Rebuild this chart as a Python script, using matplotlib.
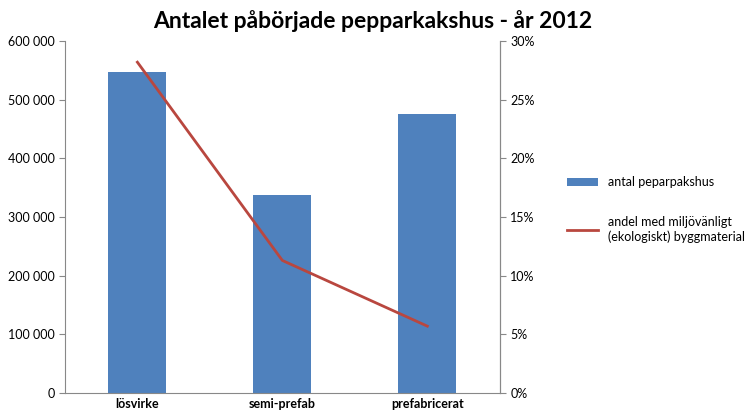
import matplotlib
matplotlib.use('Agg')
import matplotlib.pyplot as plt
from matplotlib.ticker import FuncFormatter, PercentFormatter

plt.rcParams['font.family'] = 'Lato'

categories = ['lösvirke', 'semi-prefab', 'prefabricerat']
antal = [547000, 338000, 475000]
andel = [28.2, 11.3, 5.7]

BAR, LINE = '#4f81bd', '#b9473f'

fig = plt.figure(figsize=(7.46, 4.19), dpi=100)
ax = fig.add_axes([0.087, 0.062, 0.583, 0.84])
x = range(len(categories))
bars = ax.bar(x, antal, width=0.4, color=BAR, label='antal peparpakshus')
ax.set_xlim(-0.5, 2.5)
ax.set_ylim(0, 600000)
ax.set_yticks(range(0, 600001, 100000))
ax.yaxis.set_major_formatter(FuncFormatter(lambda v, p: f'{int(v):,}'.replace(',', ' ')))
ax.set_xticks(list(x))
ax.set_xticklabels(categories, fontweight='bold', fontsize=9)
ax.tick_params(axis='y', labelsize=9, length=4, color='#888888')
ax.tick_params(axis='x', length=0)
ax.spines['top'].set_visible(False)
for s in ['left', 'bottom', 'right']:
    ax.spines[s].set_color('#888888')

ax2 = ax.twinx()
line, = ax2.plot(x, andel, color=LINE, lw=2,
                 label='andel med miljövänligt\n(ekologiskt) byggmaterial')
ax2.set_ylim(0, 30)
ax2.set_yticks(range(0, 31, 5))
ax2.yaxis.set_major_formatter(PercentFormatter(decimals=0))
ax2.tick_params(axis='y', labelsize=9, length=4, color='#888888')
ax2.spines['top'].set_visible(False)
ax2.spines['right'].set_color('#888888')
ax2.spines['left'].set_visible(False)
ax2.spines['bottom'].set_visible(False)

fig.text(0.5, 0.95, 'Antalet påbörjade pepparkakshus - år 2012', ha='center',
         va='center', fontsize=16.5, fontweight='bold')
fig.legend(handles=[bars, line], loc='center left', bbox_to_anchor=(0.745, 0.5),
           frameon=False, fontsize=9, labelspacing=2.2, handlelength=2.5)

fig.savefig('out.png', dpi=100, facecolor='white')
